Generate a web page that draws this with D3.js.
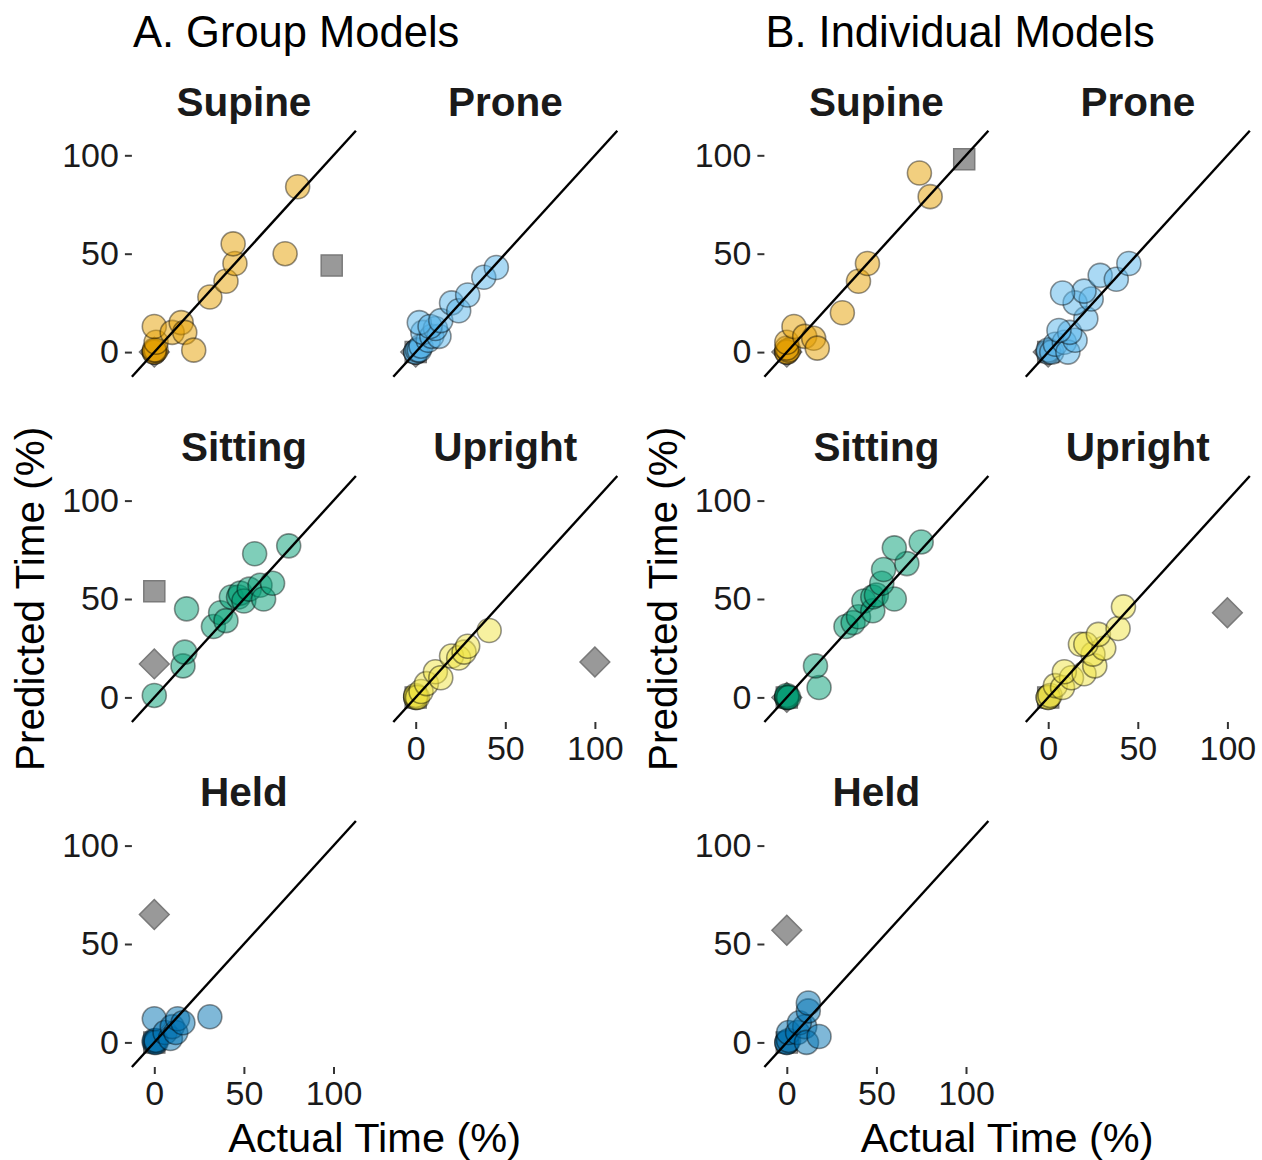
<!DOCTYPE html>
<html>
<head>
<meta charset="utf-8">
<script src="https://cdn.jsdelivr.net/npm/d3@7"></script>
<style>
  body { margin: 0; background: #fff; }
  text { font-family: "Liberation Sans", Arial, Helvetica, sans-serif; }
</style>
</head>
<body>
<svg class="chart" width="1262" height="1160"></svg>
<script>
// positions (facets) and their colours
var positions = ["Supine", "Prone", "Sitting", "Upright", "Held"];
var colors = ["#E69F00", "#56B4E9", "#009E73", "#F0E442", "#0072B2"];
var tickValues = [0, 50, 100];

// A. group models, [actual, predicted] in %
var groupSupine = [[0,0],[0,0],[1,1],[0,1],[1,5],[0,13],[10,10],[15,15],[17,10],[22,1],[31,28],[40,36],[45,45],[44,55],[73,50],[80,84]];
var groupProne = [[0,0],[0,0],[1,1],[2,1],[3,3],[7,6],[4,10],[9,8],[13,8],[11,12],[2,15],[8,13],[14,16],[20,25],[24,21],[29,29],[38,38],[45,43]];
var groupSitting = [[0,1],[16,16],[17,23],[18,45],[33,36],[37,43],[40,39],[43,51],[47,51],[48,53],[50,49],[53,55],[59,57],[61,50],[66,58],[56,73],[75,77]];
var groupUpright = [[0,0],[0,0],[0,1],[1,0],[3,3],[6,7],[11,13],[14,10],[20,21],[24,20],[27,23],[29,26],[41,34]];
var groupHeld = [[0,0],[0,1],[1,0],[1,1],[0,12],[6,5],[9,2],[10,8],[12,5],[13,12],[16,10],[31,13]];
var groupSquares = [[99,44],[0,0],[0,54],[0,0],[0,0]];
var groupDiamonds = [[0,0],[0,0],[0,17],[100,18],[0,65]];

// B. individual models
var indivSupine = [[0,0],[0,0],[1,1],[0,2],[0,5],[4,13],[10,8],[15,7],[17,2],[31,20],[40,36],[45,45],[74,91],[80,79]];
var indivProne = [[0,0],[0,1],[2,0],[4,4],[9,5],[11,0],[15,6],[12,10],[6,11],[21,17],[15,25],[24,27],[20,31],[8,30],[29,39],[38,37],[45,45]];
var indivSitting = [[0,0],[0,0],[0,1],[1,0],[18,5],[16,16],[33,36],[37,38],[40,41],[43,49],[48,44],[48,51],[50,52],[60,50],[53,58],[54,65],[67,68],[60,76],[75,79]];
var indivUpright = [[0,0],[0,0],[1,1],[4,6],[8,5],[13,10],[9,13],[20,12],[26,16],[25,22],[31,25],[18,27],[21,27],[28,32],[39,35],[42,46]];
var indivHeld = [[0,0],[0,0],[1,1],[1,5],[6,5],[10,8],[7,10],[11,0],[18,3],[12,16],[12,20]];
var indivSquares = [[99,98],[0,0],[0,0],[0,0],[0,0]];
var indivDiamonds = [[0,0],[0,0],[0,0],[100,43],[0,57]];

var plots = [
  { title: "A. Group Models", offset: 0,
    points: [groupSupine, groupProne, groupSitting, groupUpright, groupHeld],
    squares: groupSquares, diamonds: groupDiamonds },
  { title: "B. Individual Models", offset: 632.5,
    points: [indivSupine, indivProne, indivSitting, indivUpright, indivHeld],
    squares: indivSquares, diamonds: indivDiamonds }
];

var panelW = 224, panelH = 246;
var colLeft = [131.9, 393.3];
var rowTop = [130.7, 476, 821];

var x = d3.scaleLinear().domain([-12.5, 112.5]).range([0, panelW]);
var y = d3.scaleLinear().domain([-12.5, 112.5]).range([panelH, 0]);

var svg = d3.select('.chart');
var shapeSize = 21 * 21;

plots.forEach(function(p) {
  var plot = svg.append('g').attr('transform', `translate(${p.offset}, 0)`);

  plot.append('text')
      .attr('x', colLeft[0] + 1)
      .attr('y', 47)
      .attr('font-size', 43.5)
      .attr('fill', '#000')
      .text(p.title);

  positions.forEach(function(name, i) {
    var col = i % 2, row = Math.floor(i / 2);
    var panel = plot.append('g')
        .attr('transform', `translate(${colLeft[col]}, ${rowTop[row]})`);

    // strip title
    panel.append('text')
        .attr('x', panelW / 2)
        .attr('y', -15)
        .attr('text-anchor', 'middle')
        .attr('font-size', 40.5)
        .attr('font-weight', 'bold')
        .attr('fill', '#1a1a1a')
        .text(name);

    // y axis on the first column
    if (col == 0) {
      var ya = panel.append('g').call(d3.axisLeft(y).tickValues(tickValues).tickSize(7).tickPadding(6));
      ya.select('.domain').remove();
      ya.selectAll('line').attr('stroke', '#333').attr('stroke-width', 2);
      ya.selectAll('text').attr('font-size', 34).attr('fill', '#1a1a1a').attr('font-family', null);
    }
    // x axis under the last panel of each column
    if ((col == 0 && row == 2) || (col == 1 && row == 1)) {
      var xa = panel.append('g')
          .attr('transform', `translate(0, ${panelH})`)
          .call(d3.axisBottom(x).tickValues(tickValues).tickSize(7).tickPadding(7));
      xa.select('.domain').remove();
      xa.selectAll('line').attr('stroke', '#333').attr('stroke-width', 2);
      xa.selectAll('text').attr('font-size', 34).attr('fill', '#1a1a1a').attr('font-family', null);
    }

    // outlier infants
    panel.append('path')
        .attr('d', d3.symbol(d3.symbolSquare, shapeSize)())
        .attr('transform', `translate(${x(p.squares[i][0])}, ${y(p.squares[i][1])})`)
        .attr('fill', '#999').attr('stroke', '#7a7a7a').attr('stroke-width', 1.5);
    panel.append('path')
        .attr('d', d3.symbol(d3.symbolSquare, shapeSize)())
        .attr('transform', `translate(${x(p.diamonds[i][0])}, ${y(p.diamonds[i][1])}) rotate(45)`)
        .attr('fill', '#999').attr('stroke', '#7a7a7a').attr('stroke-width', 1.5);

    // points
    panel.selectAll('.pt')
        .data(p.points[i])
      .enter().append('circle')
        .attr('class', 'pt')
        .attr('cx', function(d) { return x(d[0]); })
        .attr('cy', function(d) { return y(d[1]); })
        .attr('r', 12)
        .attr('fill', colors[i])
        .attr('fill-opacity', 0.5)
        .attr('stroke', '#000')
        .attr('stroke-opacity', 0.42)
        .attr('stroke-width', 1.6);

    // identity line
    panel.append('line')
        .attr('x1', x(-12.5)).attr('y1', y(-12.5))
        .attr('x2', x(112.5)).attr('y2', y(112.5))
        .attr('stroke', '#000')
        .attr('stroke-width', 2.4);
  });

  // axis titles
  plot.append('text')
      .attr('x', (colLeft[0] + colLeft[1] + panelW) / 2)
      .attr('y', 1152)
      .attr('text-anchor', 'middle')
      .attr('font-size', 41.5)
      .text('Actual Time (%)');

  plot.append('text')
      .attr('transform', `translate(44, ${(rowTop[0] + rowTop[2] + panelH) / 2}) rotate(-90)`)
      .attr('text-anchor', 'middle')
      .attr('font-size', 40.5)
      .text('Predicted Time (%)');
});
</script>
</body>
</html>
